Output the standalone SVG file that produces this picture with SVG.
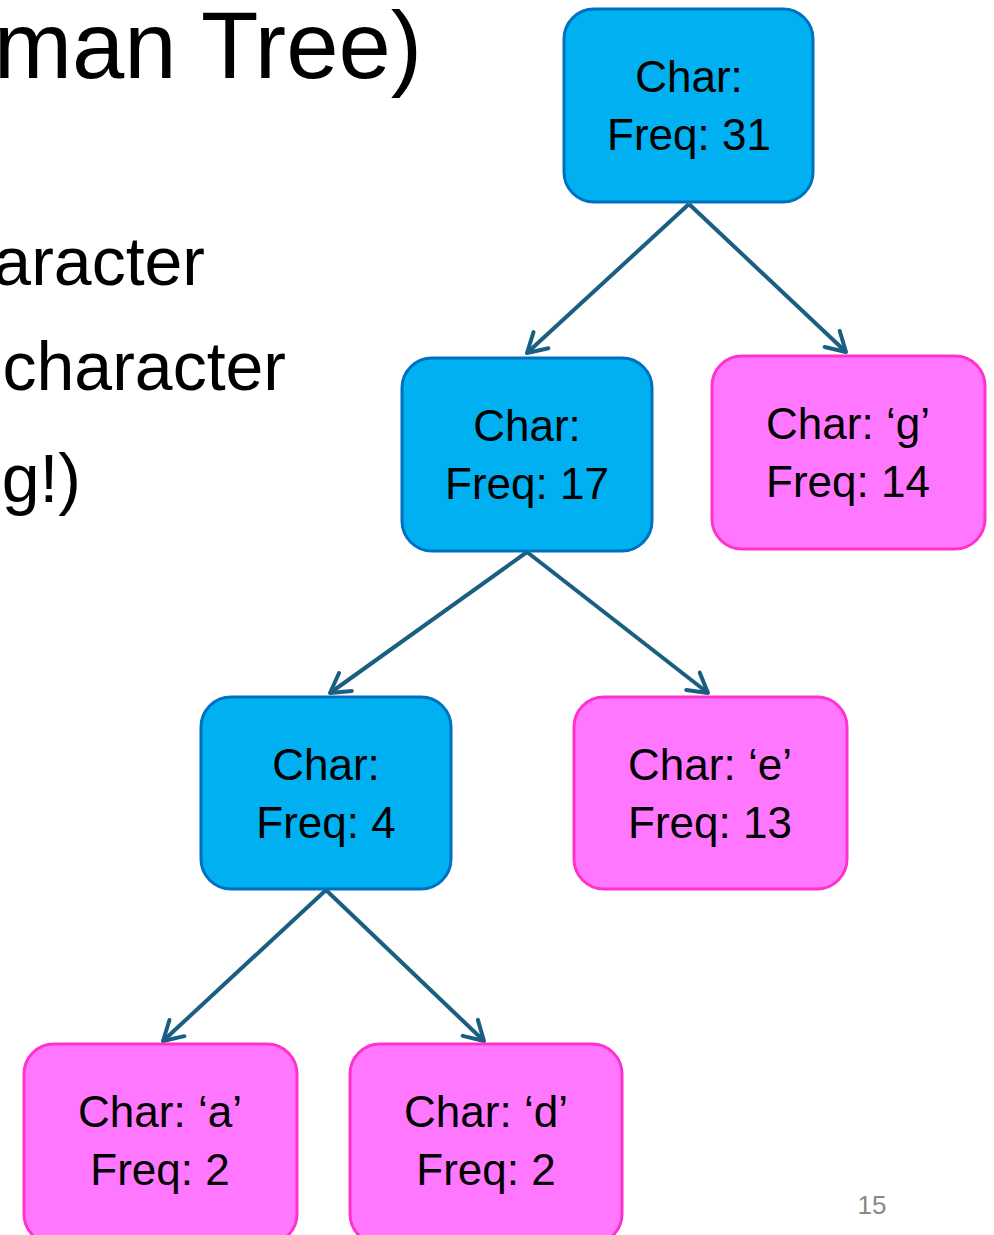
<svg xmlns="http://www.w3.org/2000/svg" width="994" height="1235" viewBox="0 0 994 1235">
  <style>
    .title { font-family: "Liberation Sans", Arial, sans-serif; font-size: 94px; fill: #000; }
    .body { font-family: "Liberation Sans", Arial, sans-serif; font-size: 68px; fill: #000; }
    .inner { fill: #00B0F0; stroke: #0070C0; stroke-width: 3; }
    .leaf { fill: #FF77FF; stroke: #FF33CC; stroke-width: 3; }
    .lbl { font-family: "Liberation Sans", Arial, sans-serif; font-size: 44px; fill: #000; text-anchor: middle; }
    .edge { stroke: #1A5E82; stroke-width: 4; fill: none; marker-end: url(#chev); }
    .pg { font-family: "Liberation Sans", Arial, sans-serif; font-size: 26px; fill: #888; text-anchor: middle; }
  </style>
  <defs>
    <marker id="chev" viewBox="0 0 12 12" refX="10" refY="6" markerWidth="12" markerHeight="12" markerUnits="userSpaceOnUse" orient="auto" overflow="visible">
      <path d="M-9,-5 L10,6 L-9,17" fill="none" stroke="#1A5E82" stroke-width="4" stroke-linecap="round" stroke-linejoin="round"/>
    </marker>
  </defs>

  <rect width="994" height="1235" fill="#fff"/>

  <!-- slide text, partially off the left edge -->
  <text class="title" x="422" y="78" text-anchor="end">man Tree)</text>
  <text class="body" x="205" y="285" text-anchor="end">aracter</text>
  <text class="body" x="286" y="390" text-anchor="end">character</text>
  <text class="body" x="81" y="502" text-anchor="end">g!)</text>

  <!-- tree edges -->
  <g id="connectors">
    <line class="edge" x1="689" y1="204" x2="527" y2="353"/>
    <line class="edge" x1="689" y1="204" x2="846" y2="352"/>
    <line class="edge" x1="527" y1="552" x2="330" y2="693"/>
    <line class="edge" x1="527" y1="552" x2="708" y2="693"/>
    <line class="edge" x1="326" y1="890" x2="163" y2="1041"/>
    <line class="edge" x1="326" y1="890" x2="484" y2="1041"/>
  </g>

  <g id="n31">
    <rect class="inner" x="564" y="9" width="249" height="193" rx="30"/>
    <text class="lbl" x="689" y="92">Char:</text>
    <text class="lbl" x="689" y="150">Freq: 31</text>
  </g>
  <g id="n17">
    <rect class="inner" x="402" y="358" width="250" height="193" rx="30"/>
    <text class="lbl" x="527" y="441">Char:</text>
    <text class="lbl" x="527" y="499">Freq: 17</text>
  </g>
  <g id="ng">
    <rect class="leaf" x="712" y="356" width="273" height="193" rx="30"/>
    <text class="lbl" x="848" y="439">Char: ‘g’</text>
    <text class="lbl" x="848" y="497">Freq: 14</text>
  </g>
  <g id="n4">
    <rect class="inner" x="201" y="697" width="250" height="192" rx="30"/>
    <text class="lbl" x="326" y="780">Char:</text>
    <text class="lbl" x="326" y="838">Freq: 4</text>
  </g>
  <g id="ne">
    <rect class="leaf" x="574" y="697" width="273" height="192" rx="30"/>
    <text class="lbl" x="710" y="780">Char: ‘e’</text>
    <text class="lbl" x="710" y="838">Freq: 13</text>
  </g>
  <g id="na">
    <rect class="leaf" x="24" y="1044" width="273" height="200" rx="30"/>
    <text class="lbl" x="160" y="1127">Char: ‘a’</text>
    <text class="lbl" x="160" y="1185">Freq: 2</text>
  </g>
  <g id="nd">
    <rect class="leaf" x="350" y="1044" width="272" height="200" rx="30"/>
    <text class="lbl" x="486" y="1127">Char: ‘d’</text>
    <text class="lbl" x="486" y="1185">Freq: 2</text>
  </g>

  <text class="pg" x="872" y="1214">15</text>
</svg>
